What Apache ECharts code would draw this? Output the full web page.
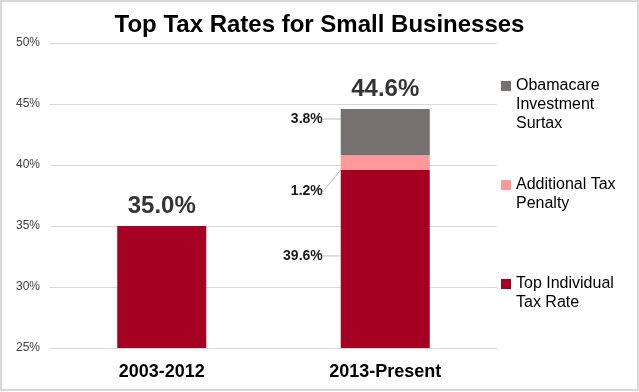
<!DOCTYPE html>
<html>
<head>
<meta charset="utf-8">
<script src="https://cdn.jsdelivr.net/npm/echarts@6/dist/echarts.min.js"></script>
<style>
  html, body { margin: 0; padding: 0; background: #fff; }
  #wrap { position: relative; width: 639px; height: 392px; }
  #chart { position: absolute; left: 0; top: 0; width: 639px; height: 392px; }
  #frame { position: absolute; left: 0; top: 0; width: 639px; height: 391px; box-sizing: border-box; border: 2px solid #d9d9d9; pointer-events: none; }
</style>
</head>
<body>
<div id="wrap"><div id="chart"></div><div id="frame"></div></div>
<script>
// ---- data ----
const titleText = 'Top Tax Rates for Small Businesses';
const categories = ['2003-2012', '2013-Present'];
const seriesNames = ['Top Individual Tax Rate', 'Additional Tax Penalty', 'Obamacare Investment Surtax'];
const legendLabels = ['Top Individual\nTax Rate', 'Additional Tax\nPenalty', 'Obamacare\nInvestment\nSurtax'];
const topIndividual = [35.0, 39.6];
const additionalPenalty = [null, 1.2];
const obamacareSurtax = [null, 3.8];
const totals = [35.0, 44.6];
const showSegmentLabel = [false, true];
const yMin = 25, yMax = 50, yStep = 5;

// ---- styles ----
const colors = ['#A50021', '#FF9999', '#767171'];
const segLabelDy = [-3, 29, -13];
const font = 'Arial, "Liberation Sans", sans-serif';
const legendLineH = 19;
const legendFirstLineY = [284, 185, 86];

const chart = echarts.init(document.getElementById('chart'), null, { renderer: 'canvas' });

function pct(v) { return v.toFixed(1) + '%'; }

const valueSets = [topIndividual, additionalPenalty, obamacareSurtax];
const barSeries = valueSets.map((vals, si) => ({
  name: seriesNames[si],
  type: 'bar',
  stack: 'total',
  barWidth: 89,
  itemStyle: { color: colors[si] },
  data: vals.map((v, i) => ({
    value: v,
    label: { show: showSegmentLabel[i] && v != null }
  })),
  label: {
    position: 'left',
    distance: 18,
    formatter: p => pct(p.value),
    fontFamily: font,
    fontWeight: 'bold',
    fontSize: 14,
    color: '#1a1a1a'
  },
  labelLine: { show: true, lineStyle: { color: '#bfbfbf', width: 1 } },
  labelLayout: () => ({ dy: segLabelDy[si] })
}));

const totalSeries = {
  name: 'Total',
  type: 'scatter',
  symbolSize: 0,
  data: totals,
  label: {
    show: true,
    position: 'top',
    distance: 8,
    formatter: p => pct(p.value),
    fontFamily: font,
    fontWeight: 'bold',
    fontSize: 24,
    color: '#000'
  },
  z: 10
};

// blank lines above the text keep the legend square level with the first text line
const legends = seriesNames.map((n, i) => {
  const lines = legendLabels[i].split('\n').length;
  const pad = lines - 1;
  const text = '\n'.repeat(pad) + legendLabels[i];
  const total = lines + pad;
  return {
    orient: 'vertical',
    left: 501,
    top: legendFirstLineY[i] - total * legendLineH / 2,
    padding: 0,
    data: [{ name: n, icon: 'rect' }],
    itemWidth: 10,
    itemHeight: 10,
    itemGap: 0,
    formatter: () => text,
    textStyle: {
      fontFamily: font,
      fontSize: 16,
      lineHeight: legendLineH,
      color: '#000'
    },
    selectedMode: false
  };
});

chart.setOption({
  animation: false,
  backgroundColor: '#fff',
  title: {
    text: titleText,
    left: 'center',
    top: 8,
    textStyle: { fontFamily: font, fontWeight: 'bold', fontSize: 24, color: '#000' }
  },
  legend: legends,
  grid: { left: 50, right: 142, top: 43, bottom: 44, containLabel: false },
  xAxis: {
    type: 'category',
    data: categories,
    axisLine: { show: true, lineStyle: { color: '#d9d9d9', width: 1 } },
    axisTick: { show: false },
    axisLabel: { margin: 15, fontFamily: font, fontWeight: 'bold', fontSize: 18, color: '#000' }
  },
  yAxis: {
    type: 'value',
    min: yMin,
    max: yMax,
    interval: yStep,
    axisLine: { show: false },
    axisTick: { show: false },
    splitLine: { lineStyle: { color: '#d9d9d9', width: 1 } },
    axisLabel: { margin: 10, formatter: v => v + '%', fontFamily: font, fontSize: 12, color: '#404040' }
  },
  series: [...barSeries, totalSeries]
});
</script>
</body>
</html>
